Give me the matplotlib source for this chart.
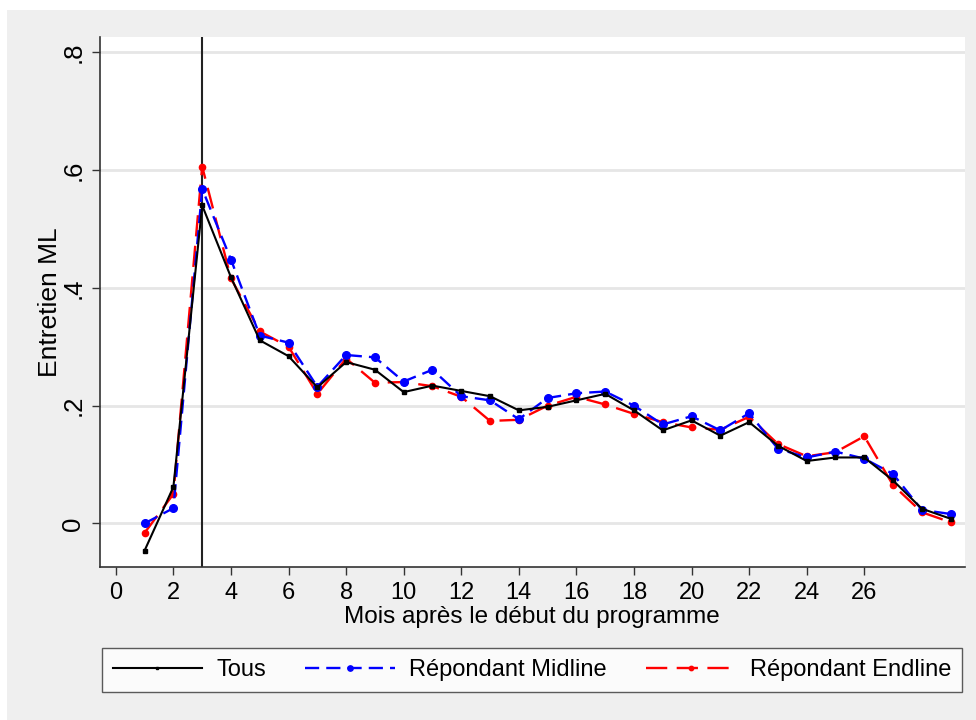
import matplotlib
matplotlib.use("Agg")
import matplotlib.pyplot as plt
from matplotlib.patches import Rectangle

plt.rcParams['font.family'] = ['Liberation Sans', 'DejaVu Sans']

months = list(range(1, 30))
tous = [-0.046, 0.062, 0.540, 0.418, 0.311, 0.284, 0.231, 0.274, 0.261, 0.223,
        0.234, 0.225, 0.216, 0.192, 0.198, 0.209, 0.220, 0.192, 0.158, 0.175,
        0.149, 0.172, 0.132, 0.106, 0.112, 0.112, 0.073, 0.025, 0.008]
midline = [0.000, 0.026, 0.568, 0.448, 0.319, 0.307, 0.232, 0.286, 0.282, 0.241,
           0.261, 0.216, 0.209, 0.177, 0.213, 0.221, 0.224, 0.200, 0.168, 0.182,
           0.158, 0.187, 0.127, 0.112, 0.122, 0.110, 0.084, 0.023, 0.016]
endline = [-0.016, 0.050, 0.606, 0.416, 0.326, 0.300, 0.220, 0.280, 0.239, 0.240,
           0.233, 0.215, 0.174, 0.176, 0.200, 0.215, 0.202, 0.186, 0.172, 0.163,
           0.159, 0.181, 0.135, 0.114, 0.121, 0.148, 0.065, 0.019, 0.002]
xticks = list(range(0, 27, 2))
yticks = [0.0, 0.2, 0.4, 0.6, 0.8]
ytick_labels = ["0", ".2", ".4", ".6", ".8"]
labels = ["Tous", "Répondant Midline", "Répondant Endline"]

W, H = 976, 720
fig = plt.figure(figsize=(W / 100, H / 100), dpi=100, facecolor='#efefef')
fig.patches.append(Rectangle((0, 1 - 10 / H), 1, 10 / H, transform=fig.transFigure,
                             facecolor='white', edgecolor='none', zorder=-1))
fig.patches.append(Rectangle((0, 0), 7 / W, 1, transform=fig.transFigure,
                             facecolor='white', edgecolor='none', zorder=-1))

left, right, top, bottom = 100, 965, 37, 567
aw, ah = right - left, bottom - top
ax = fig.add_axes([left / W, 1 - bottom / H, aw / W, ah / H])
ax.set_facecolor('white')

ax.set_xlim(-0.55, 29.5)
ax.set_ylim(-0.074, 0.826)
ax.set_yticks(yticks)
ax.set_yticklabels(ytick_labels, rotation=90, va='center')
ax.set_xticks(xticks)
for y in yticks:
    ax.axhline(y, color='#e6e6e6', lw=2, zorder=0)

ax.axvline(3, color='#222222', lw=1.5, zorder=1)

ax.plot(months, tous, color='black', lw=1.5, marker='s', ms=3, label=labels[0], zorder=4)
ax.plot(months, midline, color='#0000ff', lw=1.7, ls=(0, (6, 3)), marker='o', ms=5.5,
        label=labels[1], zorder=3)
ax.plot(months, endline, color='#ff0000', lw=1.7, ls=(0, (9, 4)), marker='o', ms=4.5,
        label=labels[2], zorder=2)

for s in ['top', 'right']:
    ax.spines[s].set_visible(False)
for s in ['left', 'bottom']:
    ax.spines[s].set_color('#333333')
    ax.spines[s].set_linewidth(1.2)
ax.tick_params(axis='both', length=6, width=1, color='#333333')
ax.tick_params(axis='x', labelsize=17, pad=4.5)
ax.tick_params(axis='y', labelsize=18.5, pad=4.5)

ax.set_xlabel("Mois après le début du programme", fontsize=17.5)
ax.xaxis.set_label_coords((532 - left) / aw, -(606 - bottom) / ah)
ax.set_ylabel("Entretien ML", fontsize=19)
ax.yaxis.set_label_coords(-(left - 62) / aw, 0.5 + (bottom - top) / ah * 0 + (302 - (top + bottom) / 2) / -ah)

x0, x1 = 102 / W, 962 / W
y0, y1 = 1 - 693 / H, 1 - 647 / H
leg = fig.legend(loc='center', bbox_to_anchor=(x0, y0, x1 - x0, y1 - y0), mode='expand',
                 ncol=3, frameon=True, fancybox=False, edgecolor='#333333',
                 fontsize=17, handlelength=3.8, handletextpad=0.6, numpoints=1,
                 columnspacing=1.6, borderpad=0.45, markerscale=0.7,
                 borderaxespad=0)
leg.get_frame().set_linewidth(1)

fig.savefig("out.png", dpi=100, facecolor=fig.get_facecolor())
